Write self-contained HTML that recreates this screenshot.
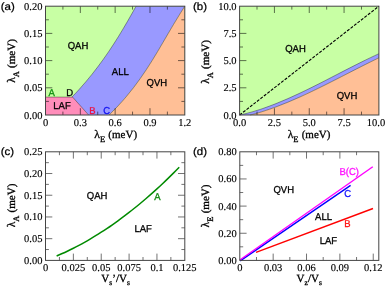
<!DOCTYPE html>
<html><head><meta charset="utf-8"><style>
html,body{margin:0;padding:0;background:#fff;width:385px;height:288px;overflow:hidden}
svg{display:block;will-change:transform;text-rendering:geometricPrecision;filter:blur(0.3px)}
</style></head><body>
<svg width="385" height="288" viewBox="0 0 385 288">
<rect x="45.5" y="6.2" width="139.3" height="108.8" fill="#C8FFA4"/>
<path d="M72,97.1 C73.17,95.84 76.77,92.05 79.05,89.52 C81.33,87 83.54,84.47 85.69,81.95 C87.83,79.42 89.91,76.9 91.93,74.38 C93.95,71.85 95.91,69.33 97.82,66.8 C99.73,64.27 101.58,61.75 103.38,59.23 C105.19,56.7 106.94,54.17 108.66,51.65 C110.37,49.12 112.04,46.6 113.68,44.07 C115.31,41.55 116.9,39.02 118.47,36.5 C120.04,33.98 121.56,31.45 123.07,28.92 C124.58,26.4 126.06,23.88 127.52,21.35 C128.98,18.83 130.42,16.3 131.84,13.78 C133.27,11.25 135.37,7.46 136.07,6.2 L184.8,6.2 C183.85,7.71 180.98,12.24 179.11,15.27 C177.24,18.29 175.4,21.31 173.59,24.33 C171.77,27.36 170.01,30.38 168.24,33.4 C166.46,36.42 164.72,39.44 162.95,42.47 C161.18,45.49 159.41,48.51 157.61,51.53 C155.8,54.56 153.98,57.58 152.1,60.6 C150.21,63.62 148.3,66.64 146.3,69.67 C144.3,72.69 142.26,75.71 140.11,78.73 C137.96,81.76 135.75,84.78 133.41,87.8 C131.07,90.82 128.64,93.84 126.08,96.87 C123.51,99.89 120.84,102.91 118,105.93 C115.17,108.96 110.56,113.49 109.07,115 L88.6,115 Z" fill="#9999FF"/>
<path d="M109.07,115 C110.56,113.49 115.17,108.96 118,105.93 C120.84,102.91 123.51,99.89 126.08,96.87 C128.64,93.84 131.07,90.82 133.41,87.8 C135.75,84.78 137.96,81.76 140.11,78.73 C142.26,75.71 144.3,72.69 146.3,69.67 C148.3,66.64 150.21,63.62 152.1,60.6 C153.98,57.58 155.8,54.56 157.61,51.53 C159.41,48.51 161.18,45.49 162.95,42.47 C164.72,39.44 166.46,36.42 168.24,33.4 C170.01,30.38 171.77,27.36 173.59,24.33 C175.4,21.31 177.24,18.29 179.11,15.27 C180.98,12.24 183.85,7.71 184.8,6.2 L184.8,6.2 L184.8,115 Z" fill="#FFBF96"/>
<path d="M45.5,97.1 L72.6,97.1 L88.6,115 L45.5,115 Z" fill="#FF8DBA"/>
<path d="M72,97.1 C73.17,95.84 76.77,92.05 79.05,89.52 C81.33,87 83.54,84.47 85.69,81.95 C87.83,79.42 89.91,76.9 91.93,74.38 C93.95,71.85 95.91,69.33 97.82,66.8 C99.73,64.27 101.58,61.75 103.38,59.23 C105.19,56.7 106.94,54.17 108.66,51.65 C110.37,49.12 112.04,46.6 113.68,44.07 C115.31,41.55 116.9,39.02 118.47,36.5 C120.04,33.98 121.56,31.45 123.07,28.92 C124.58,26.4 126.06,23.88 127.52,21.35 C128.98,18.83 130.42,16.3 131.84,13.78 C133.27,11.25 135.37,7.46 136.07,6.2" fill="none" stroke="#000" stroke-opacity="0.5" stroke-width="0.7"/>
<path d="M109.07,115 C110.56,113.49 115.17,108.96 118,105.93 C120.84,102.91 123.51,99.89 126.08,96.87 C128.64,93.84 131.07,90.82 133.41,87.8 C135.75,84.78 137.96,81.76 140.11,78.73 C142.26,75.71 144.3,72.69 146.3,69.67 C148.3,66.64 150.21,63.62 152.1,60.6 C153.98,57.58 155.8,54.56 157.61,51.53 C159.41,48.51 161.18,45.49 162.95,42.47 C164.72,39.44 166.46,36.42 168.24,33.4 C170.01,30.38 171.77,27.36 173.59,24.33 C175.4,21.31 177.24,18.29 179.11,15.27 C180.98,12.24 183.85,7.71 184.8,6.2" fill="none" stroke="#000" stroke-opacity="0.5" stroke-width="0.7"/>
<path d="M45.5,97.1 L72.6,97.1 L88.6,115" fill="none" stroke="#000" stroke-opacity="0.5" stroke-width="0.7"/>
<path d="M80.33,115v-6.8M80.33,6.2v6.8M115.15,115v-6.8M115.15,6.2v6.8M149.98,115v-6.8M149.98,6.2v6.8M62.91,115v-3.4M62.91,6.2v3.4M97.74,115v-3.4M97.74,6.2v3.4M132.56,115v-3.4M132.56,6.2v3.4M167.39,115v-3.4M167.39,6.2v3.4M45.5,87.8h6.8M184.8,87.8h-6.8M45.5,60.6h6.8M184.8,60.6h-6.8M45.5,33.4h6.8M184.8,33.4h-6.8M45.5,101.4h3.4M184.8,101.4h-3.4M45.5,74.2h3.4M184.8,74.2h-3.4M45.5,47h3.4M184.8,47h-3.4M45.5,19.8h3.4M184.8,19.8h-3.4" stroke="#000" stroke-opacity="0.7" stroke-width="0.8" fill="none"/>
<rect x="45.5" y="6.2" width="139.3" height="108.8" fill="none" stroke="#444" stroke-width="1.0"/>
<text x="42.4" y="118.5" font-size="10.5" font-family='"Liberation Serif", serif' text-anchor="end" fill="#000" stroke="#000" stroke-width="0.15" >0.00</text>
<text x="42.4" y="91.3" font-size="10.5" font-family='"Liberation Serif", serif' text-anchor="end" fill="#000" stroke="#000" stroke-width="0.15" >0.05</text>
<text x="42.4" y="64.1" font-size="10.5" font-family='"Liberation Serif", serif' text-anchor="end" fill="#000" stroke="#000" stroke-width="0.15" >0.10</text>
<text x="42.4" y="36.9" font-size="10.5" font-family='"Liberation Serif", serif' text-anchor="end" fill="#000" stroke="#000" stroke-width="0.15" >0.15</text>
<text x="42.4" y="9.7" font-size="10.5" font-family='"Liberation Serif", serif' text-anchor="end" fill="#000" stroke="#000" stroke-width="0.15" >0.20</text>
<text x="45.5" y="125.7" font-size="10.5" font-family='"Liberation Serif", serif' text-anchor="middle" fill="#000" stroke="#000" stroke-width="0.15" >0</text>
<text x="80.33" y="125.7" font-size="10.5" font-family='"Liberation Serif", serif' text-anchor="middle" fill="#000" stroke="#000" stroke-width="0.15" >0.3</text>
<text x="115.15" y="125.7" font-size="10.5" font-family='"Liberation Serif", serif' text-anchor="middle" fill="#000" stroke="#000" stroke-width="0.15" >0.6</text>
<text x="149.98" y="125.7" font-size="10.5" font-family='"Liberation Serif", serif' text-anchor="middle" fill="#000" stroke="#000" stroke-width="0.15" >0.9</text>
<text x="184.8" y="125.7" font-size="10.5" font-family='"Liberation Serif", serif' text-anchor="middle" fill="#000" stroke="#000" stroke-width="0.15" >1.2</text>
<text transform="translate(0.7,9.7) scale(1,0.92)" font-size="11.5" font-family='"Liberation Sans", sans-serif' text-anchor="start" fill="#000" stroke="#000" stroke-width="0.26" >(a)</text>
<text transform="translate(78,48.6) scale(0.95,1)" font-size="10" font-family='"Liberation Sans", sans-serif' text-anchor="middle" fill="#000" stroke="#000" stroke-width="0.31" >QAH</text>
<text transform="translate(120.3,74.5) scale(0.95,1)" font-size="10" font-family='"Liberation Sans", sans-serif' text-anchor="middle" fill="#000" stroke="#000" stroke-width="0.31" >ALL</text>
<text transform="translate(156.8,85.5) scale(0.95,1)" font-size="10" font-family='"Liberation Sans", sans-serif' text-anchor="middle" fill="#000" stroke="#000" stroke-width="0.31" >QVH</text>
<text transform="translate(62,108.8) scale(0.95,1)" font-size="10" font-family='"Liberation Sans", sans-serif' text-anchor="middle" fill="#000" stroke="#000" stroke-width="0.31" >LAF</text>
<text transform="translate(51.6,95.6) scale(0.95,1)" font-size="10" font-family='"Liberation Sans", sans-serif' text-anchor="middle" fill="#109010" stroke="#109010" stroke-width="0.31" >A</text>
<text transform="translate(69.7,95.6) scale(0.95,1)" font-size="10" font-family='"Liberation Sans", sans-serif' text-anchor="middle" fill="#000" stroke="#000" stroke-width="0.31" >D</text>
<text transform="translate(92.3,113.8) scale(0.95,1)" font-size="10" font-family='"Liberation Sans", sans-serif' text-anchor="middle" fill="#EE1040" stroke="#EE1040" stroke-width="0.31" >B</text>
<text transform="translate(106.6,113.8) scale(0.95,1)" font-size="10" font-family='"Liberation Sans", sans-serif' text-anchor="middle" fill="#1010F0" stroke="#1010F0" stroke-width="0.31" >C</text>
<text transform="translate(15.2,61) rotate(-90)" font-family='"Liberation Serif", serif' font-size="11" text-anchor="middle" stroke="#000" stroke-width="0.3"><tspan font-size="11.5">&#955;</tspan><tspan font-size="8.5" dy="3.8">A</tspan><tspan dy="-3.8" dx="0.5"> (meV)</tspan></text>
<text x="115.7" y="137.9" font-family='"Liberation Serif", serif' font-size="11" text-anchor="middle" stroke="#000" stroke-width="0.3"><tspan font-size="11.5">&#955;</tspan><tspan font-size="8.5" dy="3.8">E</tspan><tspan dy="-3.8" dx="0.5"> (meV)</tspan></text>
<rect x="239.6" y="6.2" width="139.3" height="108.8" fill="#C8FFA4"/>
<path d="M239.6,115 C240.67,114.75 243.93,114.03 246,113.51 C248.07,113 250,112.47 252,111.9 C254,111.33 256,110.72 258,110.09 C260,109.46 261,109.18 264,108.1 C267,107.02 272,105.21 276,103.62 C280,102.04 284,100.34 288,98.59 C292,96.83 296,94.98 300,93.1 C304,91.21 307.83,89.33 312,87.26 C316.17,85.2 320.67,82.9 325,80.69 C329.33,78.48 333.83,76.14 338,73.99 C342.17,71.85 345.67,70.02 350,67.82 C354.33,65.62 359.18,63.14 364,60.78 C368.82,58.42 376.42,54.86 378.9,53.67 L378.9,57.77 C376.42,59 368.82,62.73 364,65.15 C359.18,67.57 354.33,70.07 350,72.28 C345.67,74.49 342.17,76.3 338,78.42 C333.83,80.54 329.33,82.84 325,85 C320.67,87.15 316.17,89.37 312,91.37 C307.83,93.36 304,95.15 300,96.96 C296,98.76 292,100.51 288,102.17 C284,103.83 280,105.43 276,106.92 C272,108.4 267.33,109.99 264,111.09 C260.67,112.19 258.32,112.86 256,113.52 C253.68,114.17 251.08,114.75 250.1,115 Z" fill="#9999FF"/>
<path d="M250.1,115 C251.08,114.75 253.68,114.17 256,113.52 C258.32,112.86 260.67,112.19 264,111.09 C267.33,109.99 272,108.4 276,106.92 C280,105.43 284,103.83 288,102.17 C292,100.51 296,98.76 300,96.96 C304,95.15 307.83,93.36 312,91.37 C316.17,89.37 320.67,87.15 325,85 C329.33,82.84 333.83,80.54 338,78.42 C342.17,76.3 345.67,74.49 350,72.28 C354.33,70.07 359.18,67.57 364,65.15 C368.82,62.73 376.42,59 378.9,57.77 L378.9,115 Z" fill="#FFBF96"/>
<path d="M239.6,115 C240.67,114.75 243.93,114.03 246,113.51 C248.07,113 250,112.47 252,111.9 C254,111.33 256,110.72 258,110.09 C260,109.46 261,109.18 264,108.1 C267,107.02 272,105.21 276,103.62 C280,102.04 284,100.34 288,98.59 C292,96.83 296,94.98 300,93.1 C304,91.21 307.83,89.33 312,87.26 C316.17,85.2 320.67,82.9 325,80.69 C329.33,78.48 333.83,76.14 338,73.99 C342.17,71.85 345.67,70.02 350,67.82 C354.33,65.62 359.18,63.14 364,60.78 C368.82,58.42 376.42,54.86 378.9,53.67" fill="none" stroke="#000" stroke-opacity="0.5" stroke-width="0.7"/>
<path d="M250.1,115 C251.08,114.75 253.68,114.17 256,113.52 C258.32,112.86 260.67,112.19 264,111.09 C267.33,109.99 272,108.4 276,106.92 C280,105.43 284,103.83 288,102.17 C292,100.51 296,98.76 300,96.96 C304,95.15 307.83,93.36 312,91.37 C316.17,89.37 320.67,87.15 325,85 C329.33,82.84 333.83,80.54 338,78.42 C342.17,76.3 345.67,74.49 350,72.28 C354.33,70.07 359.18,67.57 364,65.15 C368.82,62.73 376.42,59 378.9,57.77" fill="none" stroke="#000" stroke-opacity="0.5" stroke-width="0.7"/>
<path d="M239.6,115 L378.9,6.2" stroke="#000" stroke-width="1.1" stroke-dasharray="3,1.4" fill="none"/>
<path d="M274.43,115v-6.8M274.43,6.2v6.8M309.25,115v-6.8M309.25,6.2v6.8M344.07,115v-6.8M344.07,6.2v6.8M257.01,115v-3.4M257.01,6.2v3.4M291.84,115v-3.4M291.84,6.2v3.4M326.66,115v-3.4M326.66,6.2v3.4M361.49,115v-3.4M361.49,6.2v3.4M239.6,87.8h6.8M239.6,60.6h6.8M239.6,33.4h6.8M239.6,101.4h3.4M239.6,74.2h3.4M239.6,47h3.4M239.6,19.8h3.4" stroke="#000" stroke-opacity="0.7" stroke-width="0.8" fill="none"/>
<rect x="239.6" y="6.2" width="139.3" height="108.8" fill="none" stroke="#444" stroke-width="1.0"/>
<text x="236.5" y="118.5" font-size="10.5" font-family='"Liberation Serif", serif' text-anchor="end" fill="#000" stroke="#000" stroke-width="0.15" >0.0</text>
<text x="236.5" y="91.3" font-size="10.5" font-family='"Liberation Serif", serif' text-anchor="end" fill="#000" stroke="#000" stroke-width="0.15" >2.5</text>
<text x="236.5" y="64.1" font-size="10.5" font-family='"Liberation Serif", serif' text-anchor="end" fill="#000" stroke="#000" stroke-width="0.15" >5.0</text>
<text x="236.5" y="36.9" font-size="10.5" font-family='"Liberation Serif", serif' text-anchor="end" fill="#000" stroke="#000" stroke-width="0.15" >7.5</text>
<text x="236.5" y="9.7" font-size="10.5" font-family='"Liberation Serif", serif' text-anchor="end" fill="#000" stroke="#000" stroke-width="0.15" >10.0</text>
<text x="239.6" y="125.7" font-size="10.5" font-family='"Liberation Serif", serif' text-anchor="middle" fill="#000" stroke="#000" stroke-width="0.15" >0.0</text>
<text x="274.43" y="125.7" font-size="10.5" font-family='"Liberation Serif", serif' text-anchor="middle" fill="#000" stroke="#000" stroke-width="0.15" >2.5</text>
<text x="309.25" y="125.7" font-size="10.5" font-family='"Liberation Serif", serif' text-anchor="middle" fill="#000" stroke="#000" stroke-width="0.15" >5.0</text>
<text x="344.07" y="125.7" font-size="10.5" font-family='"Liberation Serif", serif' text-anchor="middle" fill="#000" stroke="#000" stroke-width="0.15" >7.5</text>
<text x="376" y="125.7" font-size="10.5" font-family='"Liberation Serif", serif' text-anchor="middle" fill="#000" stroke="#000" stroke-width="0.15" >10.0</text>
<text transform="translate(193,9.8) scale(1,0.92)" font-size="11.5" font-family='"Liberation Sans", sans-serif' text-anchor="start" fill="#000" stroke="#000" stroke-width="0.26" >(b)</text>
<text transform="translate(295.5,51.5) scale(0.95,1)" font-size="10" font-family='"Liberation Sans", sans-serif' text-anchor="middle" fill="#000" stroke="#000" stroke-width="0.31" >QAH</text>
<text transform="translate(347,98.9) scale(0.95,1)" font-size="10" font-family='"Liberation Sans", sans-serif' text-anchor="middle" fill="#000" stroke="#000" stroke-width="0.31" >QVH</text>
<text transform="translate(209.4,62) rotate(-90)" font-family='"Liberation Serif", serif' font-size="11" text-anchor="middle" stroke="#000" stroke-width="0.3"><tspan font-size="11.5">&#955;</tspan><tspan font-size="8.5" dy="3.8">A</tspan><tspan dy="-3.8" dx="0.5"> (meV)</tspan></text>
<text x="309" y="137.9" font-family='"Liberation Serif", serif' font-size="11" text-anchor="middle" stroke="#000" stroke-width="0.3"><tspan font-size="11.5">&#955;</tspan><tspan font-size="8.5" dy="3.8">E</tspan><tspan dy="-3.8" dx="0.5"> (meV)</tspan></text>
<path d="M56.64,255.98 C57.57,255.58 60.36,254.38 62.22,253.55 C64.07,252.71 65.93,251.84 67.79,250.96 C69.65,250.07 71.5,249.15 73.36,248.22 C75.22,247.28 77.07,246.31 78.93,245.32 C80.79,244.33 82.65,243.32 84.5,242.28 C86.36,241.24 88.22,240.17 90.08,239.08 C91.93,237.99 93.79,236.87 95.65,235.73 C97.51,234.59 99.36,233.42 101.22,232.23 C103.08,231.04 104.93,229.82 106.79,228.58 C108.65,227.33 110.51,226.06 112.36,224.77 C114.22,223.48 116.08,222.16 117.94,220.81 C119.79,219.47 121.65,218.1 123.51,216.7 C125.37,215.31 127.22,213.89 129.08,212.44 C130.94,211 132.79,209.53 134.65,208.03 C136.51,206.53 138.37,205.01 140.22,203.46 C142.08,201.92 143.94,200.34 145.8,198.75 C147.65,197.15 149.51,195.52 151.37,193.88 C153.23,192.23 155.08,190.55 156.94,188.85 C158.8,187.16 160.65,185.43 162.51,183.68 C164.37,181.93 166.23,180.16 168.08,178.35 C169.94,176.55 171.8,174.73 173.66,172.88 C175.51,171.03 178.3,168.19 179.23,167.25" fill="none" stroke="#008A00" stroke-width="1.5"/>
<path d="M73.36,260.4v-6.8M73.36,151.8v6.8M101.22,260.4v-6.8M101.22,151.8v6.8M129.08,260.4v-6.8M129.08,151.8v6.8M156.94,260.4v-6.8M156.94,151.8v6.8M59.43,260.4v-3.4M59.43,151.8v3.4M87.29,260.4v-3.4M87.29,151.8v3.4M115.15,260.4v-3.4M115.15,151.8v3.4M143.01,260.4v-3.4M143.01,151.8v3.4M170.87,260.4v-3.4M170.87,151.8v3.4M45.5,238.68h6.8M184.8,238.68h-6.8M45.5,216.96h6.8M184.8,216.96h-6.8M45.5,195.24h6.8M184.8,195.24h-6.8M45.5,173.52h6.8M184.8,173.52h-6.8M45.5,249.54h3.4M184.8,249.54h-3.4M45.5,227.82h3.4M184.8,227.82h-3.4M45.5,206.1h3.4M184.8,206.1h-3.4M45.5,184.38h3.4M184.8,184.38h-3.4M45.5,162.66h3.4M184.8,162.66h-3.4" stroke="#000" stroke-opacity="0.7" stroke-width="0.8" fill="none"/>
<rect x="45.5" y="151.8" width="139.3" height="108.6" fill="none" stroke="#444" stroke-width="1.0"/>
<text x="42.4" y="263.9" font-size="10.5" font-family='"Liberation Serif", serif' text-anchor="end" fill="#000" stroke="#000" stroke-width="0.15" >0.00</text>
<text x="42.4" y="242.18" font-size="10.5" font-family='"Liberation Serif", serif' text-anchor="end" fill="#000" stroke="#000" stroke-width="0.15" >0.05</text>
<text x="42.4" y="220.46" font-size="10.5" font-family='"Liberation Serif", serif' text-anchor="end" fill="#000" stroke="#000" stroke-width="0.15" >0.10</text>
<text x="42.4" y="198.74" font-size="10.5" font-family='"Liberation Serif", serif' text-anchor="end" fill="#000" stroke="#000" stroke-width="0.15" >0.15</text>
<text x="42.4" y="177.02" font-size="10.5" font-family='"Liberation Serif", serif' text-anchor="end" fill="#000" stroke="#000" stroke-width="0.15" >0.20</text>
<text x="42.4" y="155.3" font-size="10.5" font-family='"Liberation Serif", serif' text-anchor="end" fill="#000" stroke="#000" stroke-width="0.15" >0.25</text>
<text x="45.5" y="271.2" font-size="10.5" font-family='"Liberation Serif", serif' text-anchor="middle" fill="#000" stroke="#000" stroke-width="0.15" >0</text>
<text x="73.36" y="271.2" font-size="10.5" font-family='"Liberation Serif", serif' text-anchor="middle" fill="#000" stroke="#000" stroke-width="0.15" >0.025</text>
<text x="101.22" y="271.2" font-size="10.5" font-family='"Liberation Serif", serif' text-anchor="middle" fill="#000" stroke="#000" stroke-width="0.15" >0.05</text>
<text x="129.08" y="271.2" font-size="10.5" font-family='"Liberation Serif", serif' text-anchor="middle" fill="#000" stroke="#000" stroke-width="0.15" >0.075</text>
<text x="156.94" y="271.2" font-size="10.5" font-family='"Liberation Serif", serif' text-anchor="middle" fill="#000" stroke="#000" stroke-width="0.15" >0.1</text>
<text x="184.8" y="271.2" font-size="10.5" font-family='"Liberation Serif", serif' text-anchor="middle" fill="#000" stroke="#000" stroke-width="0.15" >0.125</text>
<text transform="translate(0.7,154.5) scale(1,0.92)" font-size="11.5" font-family='"Liberation Sans", sans-serif' text-anchor="start" fill="#000" stroke="#000" stroke-width="0.26" >(c)</text>
<text transform="translate(97.1,199.3) scale(0.95,1)" font-size="10" font-family='"Liberation Sans", sans-serif' text-anchor="middle" fill="#000" stroke="#000" stroke-width="0.31" >QAH</text>
<text transform="translate(143.2,232) scale(0.95,1)" font-size="10" font-family='"Liberation Sans", sans-serif' text-anchor="middle" fill="#000" stroke="#000" stroke-width="0.31" >LAF</text>
<text transform="translate(157.3,200.4) scale(0.95,1)" font-size="10" font-family='"Liberation Sans", sans-serif' text-anchor="middle" fill="#108A10" stroke="#108A10" stroke-width="0.31" >A</text>
<text transform="translate(15.4,205.5) rotate(-90)" font-family='"Liberation Serif", serif' font-size="11" text-anchor="middle" stroke="#000" stroke-width="0.3"><tspan font-size="11.5">&#955;</tspan><tspan font-size="8.5" dy="3.8">A</tspan><tspan dy="-3.8" dx="0.5"> (meV)</tspan></text>
<text x="115.6" y="282" font-family='"Liberation Serif", serif' font-size="11" text-anchor="middle" stroke="#000" stroke-width="0.3">V<tspan font-size="7.5" dy="3">s</tspan><tspan dy="-3">&#8217;/V</tspan><tspan font-size="7.5" dy="3">s</tspan></text>
<path d="M256,252.3 L373,208.5" stroke="#FF0000" stroke-width="1.4" fill="none"/>
<path d="M240.2,260.9 L350.6,185.3" stroke="#0000FF" stroke-width="1.4" fill="none"/>
<path d="M239.8,260.0 L372.8,166.7" stroke="#FF00FF" stroke-width="1.4" fill="none"/>
<path d="M273.16,260.4v-6.8M273.16,151.8v6.8M306.52,260.4v-6.8M306.52,151.8v6.8M339.88,260.4v-6.8M339.88,151.8v6.8M373.24,260.4v-6.8M256.48,260.4v-3.4M256.48,151.8v3.4M289.84,260.4v-3.4M289.84,151.8v3.4M323.2,260.4v-3.4M323.2,151.8v3.4M356.56,260.4v-3.4M356.56,151.8v3.4M239.8,233.25h6.8M239.8,206.1h6.8M239.8,178.95h6.8M239.8,246.82h3.4M239.8,219.68h3.4M239.8,192.53h3.4M239.8,165.38h3.4" stroke="#000" stroke-opacity="0.7" stroke-width="0.8" fill="none"/>
<rect x="239.8" y="151.8" width="139" height="108.6" fill="none" stroke="#444" stroke-width="1.0"/>
<text x="236.7" y="263.9" font-size="10.5" font-family='"Liberation Serif", serif' text-anchor="end" fill="#000" stroke="#000" stroke-width="0.15" >0.00</text>
<text x="236.7" y="236.75" font-size="10.5" font-family='"Liberation Serif", serif' text-anchor="end" fill="#000" stroke="#000" stroke-width="0.15" >0.20</text>
<text x="236.7" y="209.6" font-size="10.5" font-family='"Liberation Serif", serif' text-anchor="end" fill="#000" stroke="#000" stroke-width="0.15" >0.40</text>
<text x="236.7" y="182.45" font-size="10.5" font-family='"Liberation Serif", serif' text-anchor="end" fill="#000" stroke="#000" stroke-width="0.15" >0.60</text>
<text x="236.7" y="155.3" font-size="10.5" font-family='"Liberation Serif", serif' text-anchor="end" fill="#000" stroke="#000" stroke-width="0.15" >0.80</text>
<text x="239.8" y="271.2" font-size="10.5" font-family='"Liberation Serif", serif' text-anchor="middle" fill="#000" stroke="#000" stroke-width="0.15" >0</text>
<text x="273.16" y="271.2" font-size="10.5" font-family='"Liberation Serif", serif' text-anchor="middle" fill="#000" stroke="#000" stroke-width="0.15" >0.03</text>
<text x="306.52" y="271.2" font-size="10.5" font-family='"Liberation Serif", serif' text-anchor="middle" fill="#000" stroke="#000" stroke-width="0.15" >0.06</text>
<text x="339.88" y="271.2" font-size="10.5" font-family='"Liberation Serif", serif' text-anchor="middle" fill="#000" stroke="#000" stroke-width="0.15" >0.09</text>
<text x="373.24" y="271.2" font-size="10.5" font-family='"Liberation Serif", serif' text-anchor="middle" fill="#000" stroke="#000" stroke-width="0.15" >0.12</text>
<text transform="translate(192.9,154.5) scale(1,0.92)" font-size="11.5" font-family='"Liberation Sans", sans-serif' text-anchor="start" fill="#000" stroke="#000" stroke-width="0.26" >(d)</text>
<text transform="translate(283.7,193.4) scale(0.95,1)" font-size="10" font-family='"Liberation Sans", sans-serif' text-anchor="middle" fill="#000" stroke="#000" stroke-width="0.31" >QVH</text>
<text transform="translate(323.5,219.5) scale(0.95,1)" font-size="10" font-family='"Liberation Sans", sans-serif' text-anchor="middle" fill="#000" stroke="#000" stroke-width="0.31" >ALL</text>
<text transform="translate(328.4,244) scale(0.95,1)" font-size="10" font-family='"Liberation Sans", sans-serif' text-anchor="middle" fill="#000" stroke="#000" stroke-width="0.31" >LAF</text>
<text transform="translate(349.2,174.6) scale(0.95,1)" font-size="10" font-family='"Liberation Sans", sans-serif' text-anchor="middle" fill="#FF10FF" stroke="#FF10FF" stroke-width="0.31" >B(C)</text>
<text transform="translate(347.8,197) scale(0.95,1)" font-size="10" font-family='"Liberation Sans", sans-serif' text-anchor="middle" fill="#1010FF" stroke="#1010FF" stroke-width="0.31" >C</text>
<text transform="translate(347.4,227.2) scale(0.95,1)" font-size="10" font-family='"Liberation Sans", sans-serif' text-anchor="middle" fill="#FF1010" stroke="#FF1010" stroke-width="0.31" >B</text>
<text transform="translate(208.9,206) rotate(-90)" font-family='"Liberation Serif", serif' font-size="11" text-anchor="middle" stroke="#000" stroke-width="0.3"><tspan font-size="11.5">&#955;</tspan><tspan font-size="8.5" dy="3.8">E</tspan><tspan dy="-3.8" dx="0.5"> (meV)</tspan></text>
<text x="309.2" y="282" font-family='"Liberation Serif", serif' font-size="11" text-anchor="middle" stroke="#000" stroke-width="0.3">V<tspan font-size="7.5" dy="3">z</tspan><tspan dy="-3">/V</tspan><tspan font-size="7.5" dy="3">s</tspan></text>
</svg>
</body></html>
